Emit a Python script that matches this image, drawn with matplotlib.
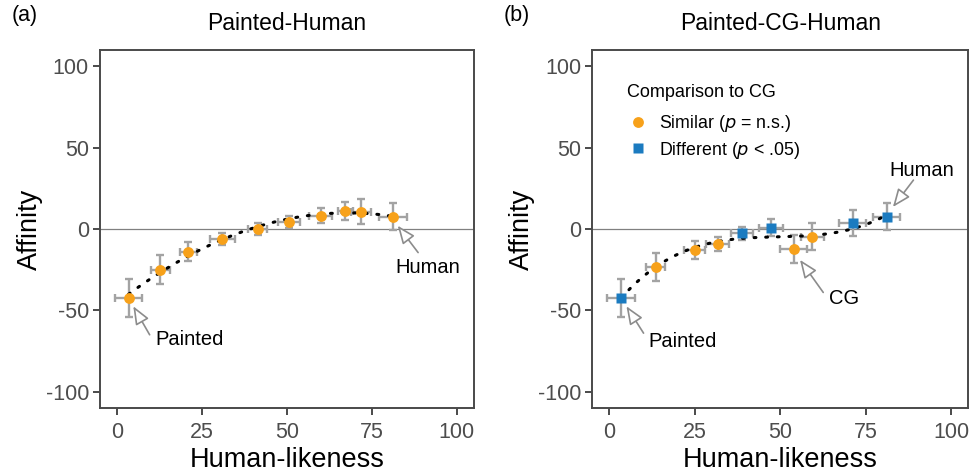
import numpy as np
import matplotlib.pyplot as plt
from matplotlib.lines import Line2D

plt.rcParams['font.family'] = ['Liberation Sans', 'DejaVu Sans']
plt.rcParams['axes.unicode_minus'] = False

ORANGE = '#F7A11A'
BLUE = '#1B7BC0'
ERR_COL = '#A3A3A3'
SPINE = '#4A4A4A'

# panel (a): Painted-Human
a_x = [3.4, 12.7, 21.0, 31.0, 41.4, 50.5, 59.9, 67.1, 71.8, 81.1]
a_y = [-42.4, -25.1, -13.9, -6.3, 0.0, 4.5, 8.2, 11.0, 10.6, 7.6]
a_xerr = [3.9, 2.8, 2.4, 3.7, 2.8, 3.2, 3.4, 2.2, 2.9, 4.1]
a_yerr = [11.7, 9.0, 5.6, 3.6, 3.6, 3.7, 4.6, 5.6, 7.7, 8.5]

# panel (b): Painted-CG-Human
b_x = [3.4, 13.5, 25.0, 31.7, 38.8, 47.3, 53.9, 59.4, 71.2, 81.2]
b_y = [-42.4, -23.1, -12.9, -9.2, -2.7, 0.8, -12.4, -4.7, 3.5, 7.6]
b_xerr = [4.0, 2.8, 3.1, 3.4, 3.2, 3.6, 4.0, 3.4, 3.9, 4.0]
b_yerr = [11.7, 8.6, 5.5, 4.2, 3.9, 5.4, 8.4, 8.2, 8.0, 8.5]
b_diff = [True, False, False, False, True, True, False, False, True, True]

ticks = [0, 25, 50, 75, 100]
yticks = [-100, -50, 0, 50, 100]

fig = plt.figure(figsize=(9.71, 4.75), dpi=100)
ax1 = fig.add_axes([0.103, 0.141, 0.385, 0.754])
ax2 = fig.add_axes([0.610, 0.141, 0.387, 0.754])


def style(ax, title):
    ax.set_xlim(-5, 105)
    ax.set_ylim(-110, 110)
    ax.set_xticks(ticks)
    ax.set_yticks(yticks)
    ax.tick_params(direction='out', length=5, width=1.4, color=SPINE,
                   labelsize=15.5, labelcolor='#4D4D4D', pad=3)
    ax.tick_params(axis='x', pad=5)
    for s in ax.spines.values():
        s.set_color(SPINE)
        s.set_linewidth(1.4)
    ax.axhline(0, color='#808080', lw=0.9, zorder=1)
    ax.set_title(title, fontsize=16.5, pad=14)
    ax.set_xlabel('Human-likeness', fontsize=19.5, labelpad=3)
    ax.set_ylabel('Affinity', fontsize=19.5, labelpad=2)


def fit_line(ax, x, y, deg):
    coef = np.polyfit(x, y, deg)
    xs = np.linspace(min(x), max(x), 200)
    ax.plot(xs, np.polyval(coef, xs), color='black', lw=2.2,
            linestyle=(0, (0.6, 3.2)), dash_capstyle='round', zorder=3)


def arrow(ax, tip, tail):
    ax.annotate('', xy=tip, xytext=tail,
                arrowprops=dict(arrowstyle='-|>,head_length=1.1,head_width=0.45',
                                fc='white', ec='#8C8C8C', lw=1.2,
                                shrinkA=0, shrinkB=0), zorder=5)


# ---- panel (a)
style(ax1, 'Painted-Human')
ax1.errorbar(a_x, a_y, xerr=a_xerr, yerr=a_yerr, fmt='none', ecolor=ERR_COL,
             elinewidth=1.7, capsize=3, capthick=1.7, zorder=2)
fit_line(ax1, a_x, a_y, 2)
ax1.plot(a_x, a_y, 'o', color=ORANGE, ms=7.8, mec='none', zorder=4)
arrow(ax1, (4.8, -47.5), (9.6, -65))
ax1.text(11.2, -68, 'Painted', fontsize=14.5, va='center')
arrow(ax1, (82.6, 2.0), (88.6, -14.5))
ax1.text(82.0, -23.5, 'Human', fontsize=14.5, va='center')

# ---- panel (b)
style(ax2, 'Painted-CG-Human')
ax2.errorbar(b_x, b_y, xerr=b_xerr, yerr=b_yerr, fmt='none', ecolor=ERR_COL,
             elinewidth=1.7, capsize=3, capthick=1.7, zorder=2)
fit_line(ax2, b_x, b_y, 3)
bx = np.array(b_x)
by = np.array(b_y)
d = np.array(b_diff)
ax2.plot(bx[~d], by[~d], 'o', color=ORANGE, ms=7.8, mec='none', zorder=4)
ax2.plot(bx[d], by[d], 's', color=BLUE, ms=7.5, mec='none', zorder=4)
arrow(ax2, (5.0, -47.5), (10.0, -64))
ax2.text(11.4, -69, 'Painted', fontsize=14.5, va='center')
arrow(ax2, (55.8, -19), (62.6, -39))
ax2.text(64.3, -43, 'CG', fontsize=14.5, va='center')
arrow(ax2, (83.0, 13.5), (89.0, 30))
ax2.text(81.9, 36, 'Human', fontsize=14.5, va='center')

handles = [Line2D([], [], marker='o', ls='none', color=ORANGE, ms=7.8, mec='none'),
           Line2D([], [], marker='s', ls='none', color=BLUE, ms=7, mec='none')]
leg = ax2.legend(handles, ['Similar ($p$ = n.s.)', 'Different ($p$ < .05)'],
                 title='Comparison to CG', loc='upper left',
                 bbox_to_anchor=(0.05, 0.95), frameon=False, fontsize=12.8,
                 title_fontsize=13, handletextpad=0.6, handlelength=1.2,
                 labelspacing=0.3)
leg._legend_box.align = 'left'
leg._legend_box.sep = 9

fig.text(0.012, 0.968, '(a)', fontsize=15.5, va='center')
fig.text(0.519, 0.968, '(b)', fontsize=15.5, va='center')

plt.savefig('out.png', dpi=100)
